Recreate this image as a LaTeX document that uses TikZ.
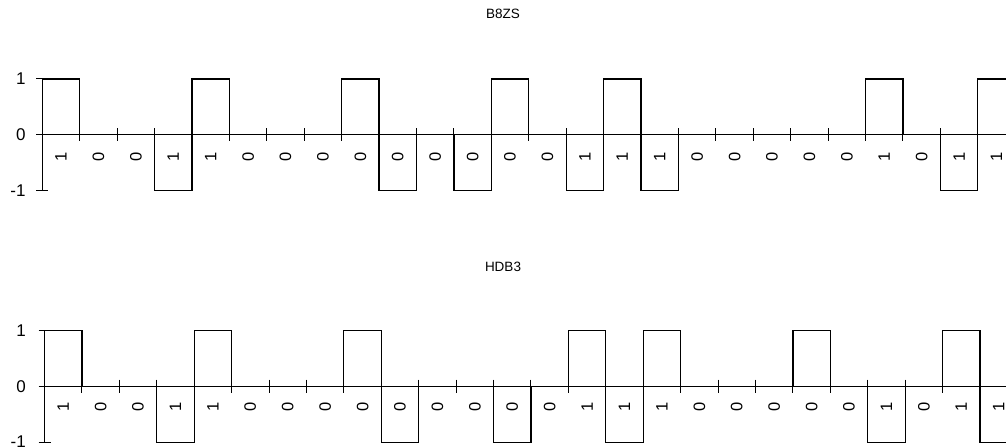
\documentclass[tikz,border=0pt]{standalone}
\usepackage{fontspec}
\setmainfont{Liberation Sans}
\begin{document}
\begin{tikzpicture}[x=1pt,y=-1pt,
  axisline/.style={line width=1pt,black},
  pulse/.style={line width=1.2pt,black,line join=miter},
  tickmark/.style={line width=1pt,black},
  levellbl/.style={anchor=east,inner sep=0pt,font=\fontsize{17}{19}\selectfont},
  bitlbl/.style={rotate=90,inner sep=0pt,font=\fontsize{16.5}{18}\selectfont},
  title/.style={inner sep=0pt,font=\fontsize{13.5}{16}\selectfont}]
\useasboundingbox (0,0) rectangle (1006,447);
\clip (0,0) rectangle (1006,447);

% bit period and signal amplitude (pt)
\def\w{37.42}
\def\amp{55.8}

% ---------- B8ZS ----------
\node[title] (title-b8zs) at (503,14) {B8ZS};
\begin{scope}[shift={(42.3,134.7)}]
  % level axis with its ticks and labels
  \draw[axisline] (0,-\amp) -- (0,\amp);
  \foreach \lv/\txt [count=\i] in {1/1,0/0,-1/-1} {
    \draw[tickmark] (-6,{-\lv*\amp}) -- (6,{-\lv*\amp});
    \node[levellbl] (b8zs-lvl-\i) at (-16.5,{-\lv*\amp}) {\txt};
  }
  % time axis and bit boundaries
  \draw[axisline] (0,0) -- (1000,0);
  \foreach \k in {1,...,26} \draw[tickmark] ({\k*\w},-6.7) -- ({\k*\w},6.7);
  % pulses
  \foreach \lv [count=\k from 0] in {1,0,0,-1,1,0,0,0,1,-1,0,-1,1,0,-1,1,-1,0,0,0,0,0,1,0,-1,1} {
    \ifnum\lv=0 \else
      \draw[pulse] ({\k*\w},0) -- ({\k*\w},{-\lv*\amp}) -- ({(\k+1)*\w},{-\lv*\amp}) -- ({(\k+1)*\w},0);
    \fi
  }
  % data bits
  \foreach \b [count=\k from 0] in {1,0,0,1,1,0,0,0,0,0,0,0,0,0,1,1,1,0,0,0,0,0,1,0,1,1}
    \node[bitlbl] (b8zs-bit-\k) at ({(\k+0.5)*\w},22) {\b};
\end{scope}

% ---------- HDB3 ----------
\node[title] (title-hdb3) at (503,267) {HDB3};
\begin{scope}[shift={(44.5,386.3)}]
  \draw[axisline] (0,-\amp) -- (0,\amp);
  \foreach \lv/\txt [count=\i] in {1/1,0/0,-1/-1} {
    \draw[tickmark] (-6,{-\lv*\amp}) -- (6,{-\lv*\amp});
    \node[levellbl] (hdb3-lvl-\i) at (-18.5,{-\lv*\amp}) {\txt};
  }
  \draw[axisline] (0,0) -- (1000,0);
  \foreach \k in {1,...,26} \draw[tickmark] ({\k*\w},-6.7) -- ({\k*\w},6.7);
  \foreach \lv [count=\k from 0] in {1,0,0,-1,1,0,0,0,1,-1,0,0,-1,0,1,-1,1,0,0,0,1,0,-1,0,1,-1} {
    \ifnum\lv=0 \else
      \draw[pulse] ({\k*\w},0) -- ({\k*\w},{-\lv*\amp}) -- ({(\k+1)*\w},{-\lv*\amp}) -- ({(\k+1)*\w},0);
    \fi
  }
  \foreach \b [count=\k from 0] in {1,0,0,1,1,0,0,0,0,0,0,0,0,0,1,1,1,0,0,0,0,0,1,0,1,1}
    \node[bitlbl] (hdb3-bit-\k) at ({(\k+0.5)*\w},21) {\b};
\end{scope}
\end{tikzpicture}
\end{document}
